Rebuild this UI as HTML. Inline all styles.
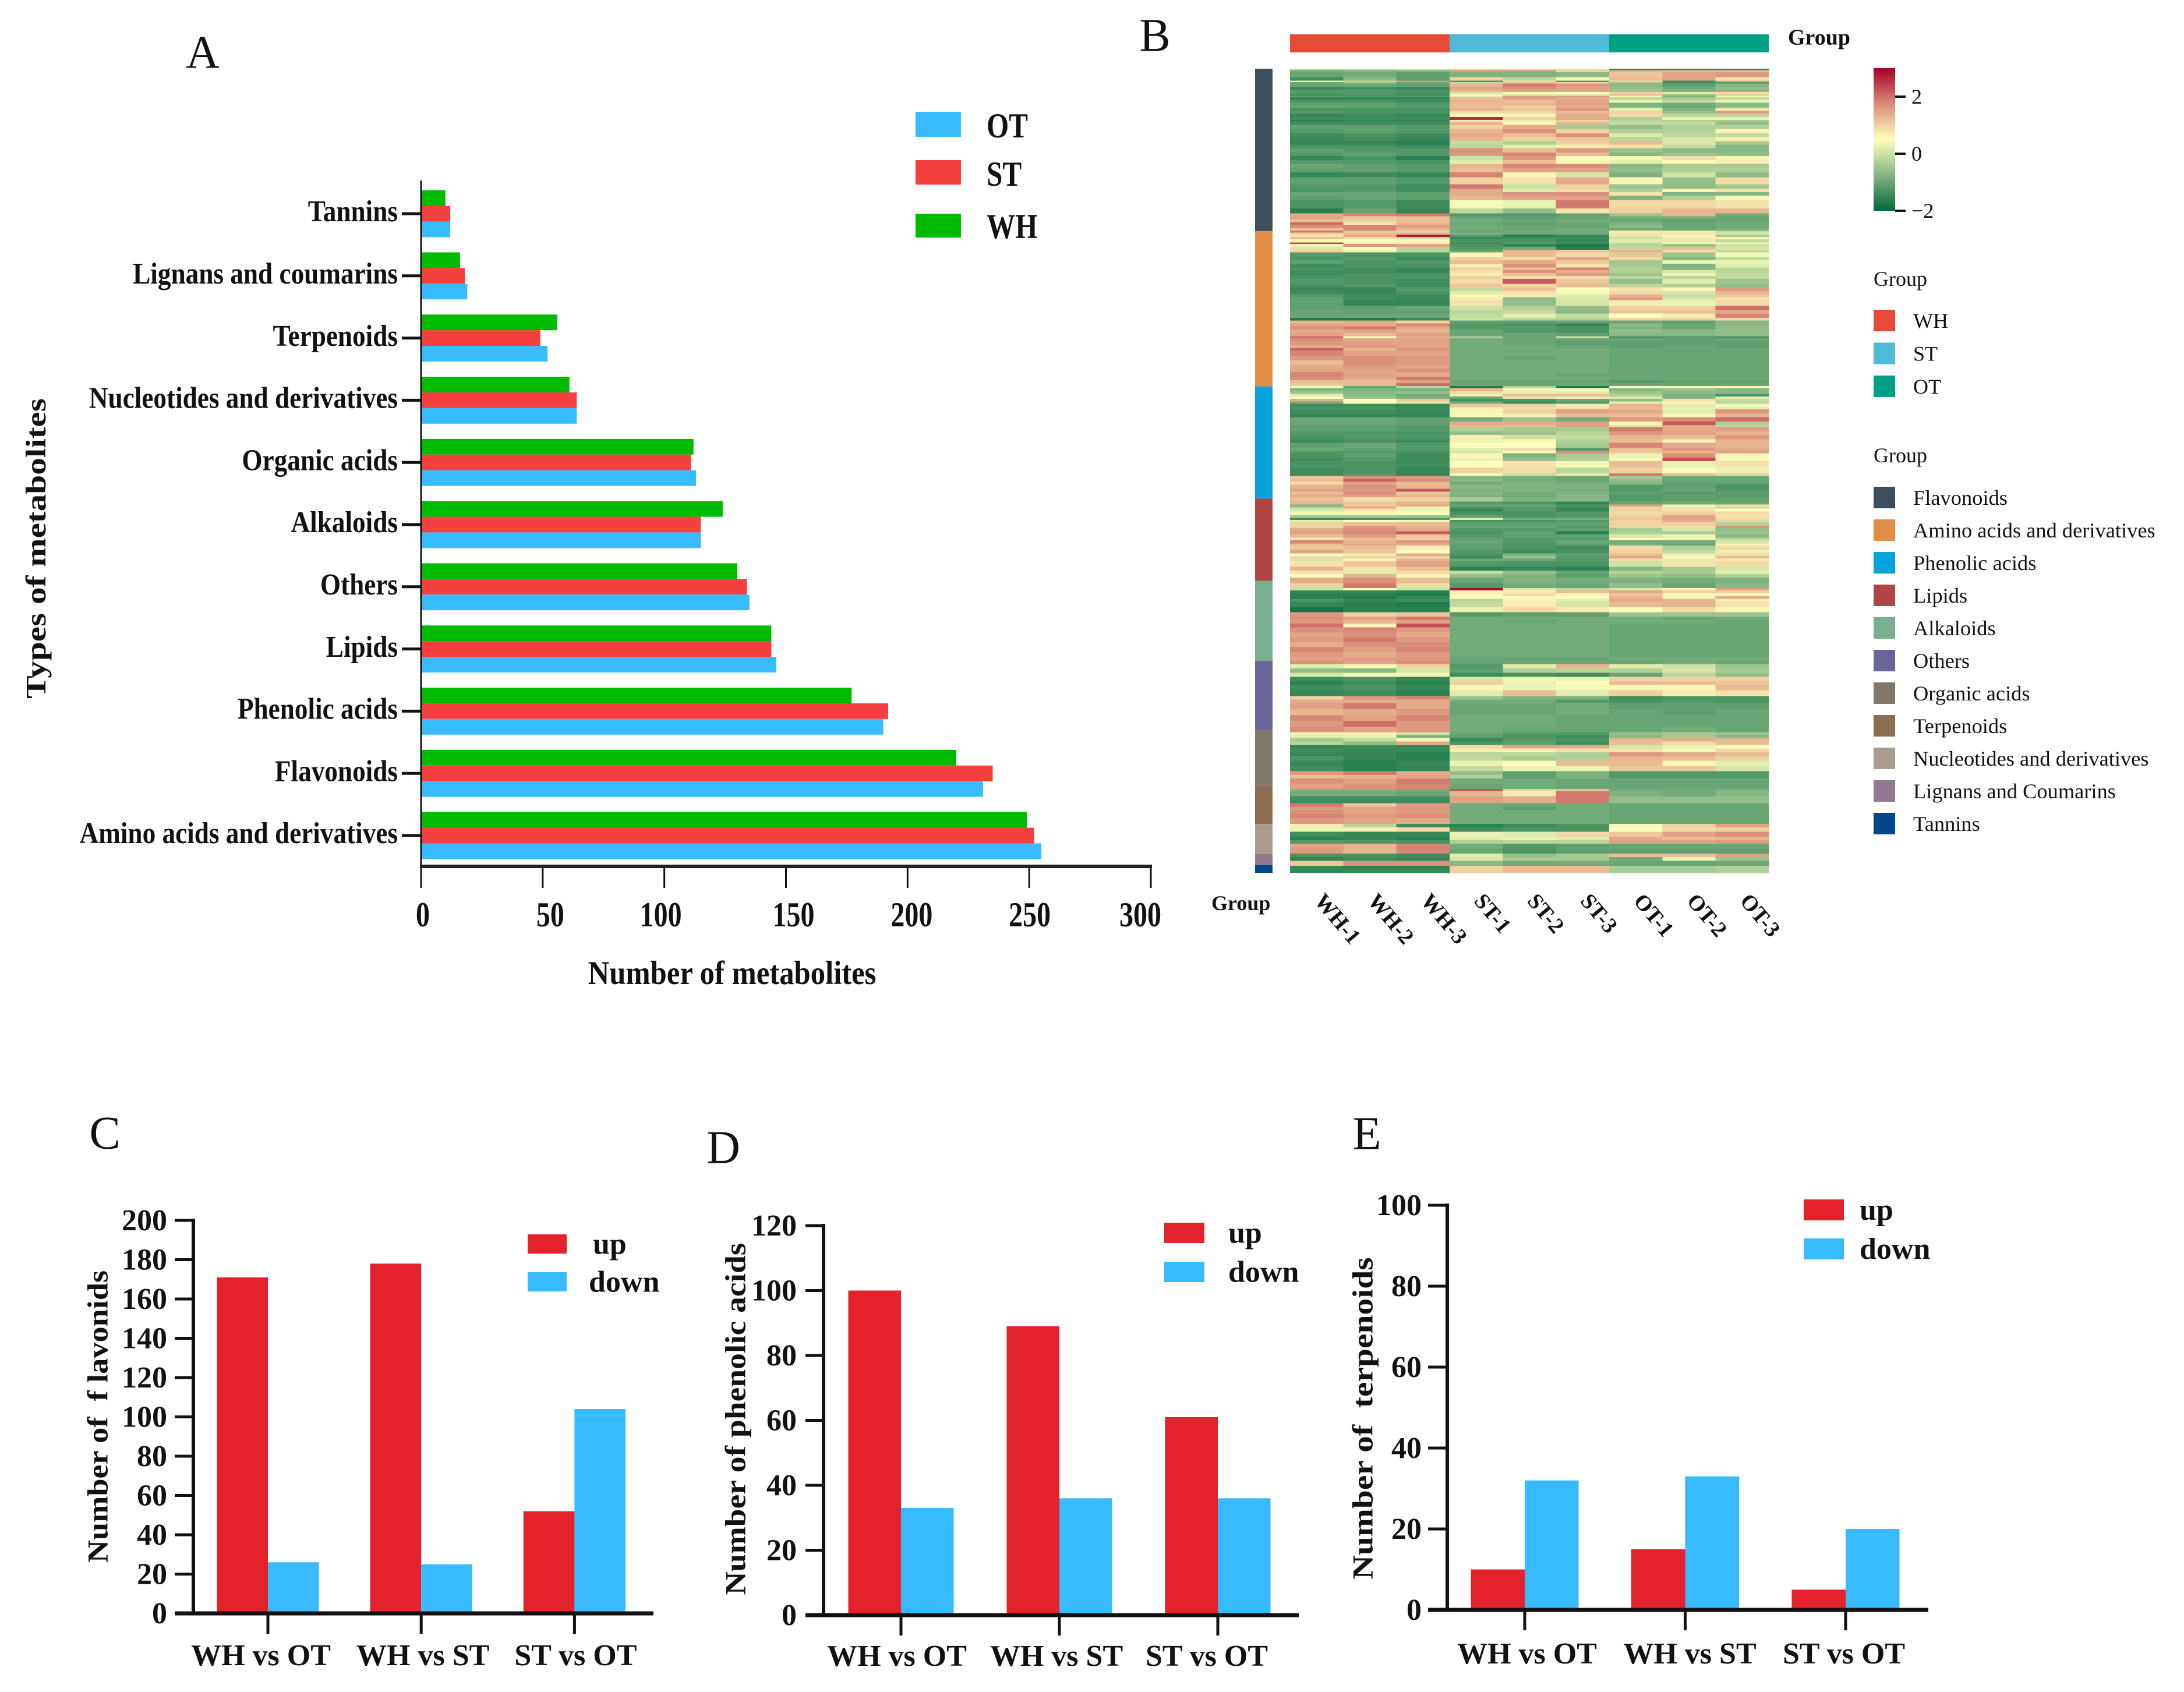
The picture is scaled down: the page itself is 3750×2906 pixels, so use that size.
<!DOCTYPE html>
<html lang="en">
<head>
<meta charset="utf-8">
<title>Metabolite classification, heatmap and differential counts</title>
<style>
html,body{margin:0;padding:0;background:#fff;}
svg{display:block;}
text{font-family:"Liberation Serif","Times New Roman",serif;fill:#111;}
</style>
</head>
<body>
<svg id="figure" xmlns="http://www.w3.org/2000/svg" width="3750" height="2906" viewBox="0 0 3750 2906">
<defs>
<linearGradient id="heatGradient" x1="0" y1="1" x2="0" y2="0">
<stop offset="0" stop-color="#00693a"/>
<stop offset="0.25" stop-color="#84b582"/>
<stop offset="0.5" stop-color="#ffffbb"/>
<stop offset="0.75" stop-color="#d98b78"/>
<stop offset="1" stop-color="#a50026"/>
</linearGradient>
</defs>
<rect width="3750" height="2906" fill="#fff"/>
</svg>
<script>
/* ---------- Panel A data ---------- */
const catA = ["Tannins","Lignans and coumarins","Terpenoids","Nucleotides and derivatives","Organic acids","Alkaloids","Others","Lipids","Phenolic acids","Flavonoids","Amino acids and derivatives"];
const whA = [10,16,56,61,112,124,130,144,177,220,249];
const stA = [12,18,49,64,111,115,134,144,192,235,252];
const otA = [12,19,52,64,113,115,135,146,190,231,255];
const ticksA = [0,50,100,150,200,250,300];
const seriesNamesA = ["OT","ST","WH"];

/* ---------- Panels C, D, E data ---------- */
const compareLabels = ["WH vs OT","WH vs ST","ST vs OT"];
const upC = [171,178,52];
const downC = [26,25,104];
const ticksC = [0,20,40,60,80,100,120,140,160,180,200];
const upD = [100,89,61];
const downD = [33,36,36];
const ticksD = [0,20,40,60,80,100,120];
const upE = [10,15,5];
const downE = [32,33,20];
const ticksE = [0,20,40,60,80,100];

/* ---------- Panel B data ---------- */
const heatSamples = ["WH-1","WH-2","WH-3","ST-1","ST-2","ST-3","OT-1","OT-2","OT-3"];
const groupNames = ["WH","ST","OT"];
const classNames = ["Flavonoids","Amino acids and derivatives","Phenolic acids","Lipids","Alkaloids","Others","Organic acids","Terpenoids","Nucleotides and derivatives","Lignans and Coumarins","Tannins"];
const classRows = [233,223,161,118,115,99,81,54,43,16,11];
const colorbarTicks = [2,0,-2];
/* each band: metabolite rows in the band, then nine z-scores */
const heatBands = [
[2,-.2,-.1,0,1,.9,.9,-1.6,-1.6,-1.6],
[3,-.9,-.8,-.8,1.6,1.7,1,1.3,1.2,1.2],
[7,-1,-.9,-1.1,-.8,-.8,-.7,1.1,1.5,1.6],
[5,-1.4,-.7,-1.1,1,-.2,.4,1.2,1.5,.8],
[2,.3,1.2,1.6,-1.2,.9,-1.2,1,-1.4,1.5],
[2,-1,-.5,-1,-.1,1.2,1,-.5,-1.3,-1.2],
[5,-1,-1,-1.1,1.3,1.9,1.6,-.7,-1.1,-.7],
[3,-1.5,-1.4,-1.5,1.5,1.7,1.5,-.6,-.9,-.6],
[4,-1.2,-1.2,-1.3,1.3,1.5,1.5,-.5,-.8,-.7],
[3,-1.2,-1.2,-1.3,.1,.4,.5,1,.2,.9],
[2,-1.4,-1.3,-1.4,.5,.2,.2,1.2,-.5,1.1],
[2,-1.1,-1.2,-1.2,.2,1.6,1.6,.6,-.8,.4],
[4,-1.5,-1.5,-1.5,1.2,1.5,1.4,-.2,-.4,-.1],
[4,-1.3,-1.3,-1.4,1.3,1.2,1.5,.3,-.1,.3],
[4,-1.1,-1.1,-1.2,1.2,1.3,1.5,-.8,-.9,-.7],
[3,-1,-1.1,-1.2,1.2,1,1.4,-.7,-1,-.7],
[5,-1.3,-1.3,-1.3,1.3,1.1,1.6,.2,-.8,.8],
[3,-1.2,-1.3,-1.3,.9,1,1.2,1,-.6,1.6],
[5,-1.5,-1.4,-1.5,.4,.6,1.4,.9,-.2,-.2],
[4,-1.4,-1.4,-1.4,2.6,1,1.4,-.3,.3,.3],
[3,-1.6,-1.5,-1.5,.8,.3,1,-.2,-.3,-.4],
[4,-1.4,-1.4,-1.4,1.3,.6,1.3,-.1,-.1,-.6],
[6,-1.1,-1.1,-1.2,1,1.4,-.4,-.6,-.3,-.3],
[6,-1.2,-1.1,-1.2,1.3,1.7,1,-.3,-.3,.6],
[5,-1.4,-1.3,-1.4,1.4,1.2,1.7,.2,-.2,-.1],
[6,-1.5,-1.4,-1.5,1.3,1,1.1,-.2,.1,.7],
[5,-1.5,-1.5,-1.6,-.1,-.3,1,1.2,.1,-.4],
[5,-1.3,-1.3,-1.4,-.2,.2,.7,.8,-.1,-.7],
[6,-1.1,-1.2,-1.2,1.7,1.2,1.6,-.5,-.7,-.7],
[5,-1.2,-1.1,-1.2,1.6,1.8,1.2,-.7,-.5,-.6],
[6,-1.5,-1.3,-1.6,0,1.6,.5,.4,.9,.6],
[5,-1.2,-1.2,-1.3,.2,1.2,.4,.2,.6,.7],
[6,-1,-1.1,-1.2,1.3,1.8,1.7,-.7,-.4,-.4],
[6,-1.1,-1.1,-1.2,1.2,1.5,1.5,-.6,-.3,-.3],
[7,-1.5,-1.4,-1.5,1.8,.6,.1,-.8,0,-.6],
[10,-1.1,-1.1,-1.2,1,.8,1.4,.6,-.6,.9],
[6,-1.2,-1.2,-1.4,1.9,0,1,-.5,-.6,-.4],
[5,-1.3,-1.2,-1.4,1.4,.2,.9,-.3,.6,.8],
[5,-1,-1,-1.1,1.4,1.7,1.7,.8,-.8,-.7],
[6,-1.1,-1,-1.1,1.3,1.5,1.5,-.8,-.3,.4],
[12,-1.3,-1.2,-1.4,.4,.3,1.9,.9,.9,.8],
[7,-1.6,-1,-1.5,-.2,-.6,.8,1,1.3,1.3],
[4,1.4,1.8,1.9,-1.2,-1.2,-1.1,-.5,1.3,-.9],
[4,1.5,1.1,1.2,-1,-1.1,-1,-.9,-.9,-1],
[4,1.2,1,1.2,-.9,-1,-.9,-1,-1.1,-1],
[4,2,.7,1.3,-1,-1.1,-1,-.8,-1,-.9],
[5,1.7,1.8,1.5,-.9,-1,-1,-.7,-1,-.9],
[3,1.2,1.8,1.3,-.9,-1,-.9,-.9,-1,-.8],
[3,1.9,1.1,1,-1,-.9,-.9,.7,.7,-.1],
[3,1,1.2,1.3,-.8,-1,-.9,.8,.8,.1],
[3,.8,1.4,2.8,-1.2,-1.6,-1.5,.2,.6,-.4],
[3,1.2,.9,-.1,-1.5,-1.4,-1.4,0,.7,.4],
[5,.6,.5,.6,-1.3,-1.3,-1.5,.2,.8,-.1],
[2,2.4,.3,.7,-1.4,-1.2,-1.4,-.1,.6,.4],
[4,.3,1.6,1.5,-1.3,-1.5,-1.7,-.2,-.5,0],
[4,.9,.5,-.2,-1.2,-.9,-1.6,-.1,1.2,.1],
[4,1,.3,-.2,-1,1.3,1.1,1.3,.9,-.1],
[6,-1.2,-1.3,-1.3,.6,1.2,.9,1.1,-.5,.4],
[5,-1.3,-1.2,-1.4,1,.9,1.5,.9,-.7,-.1],
[5,-1.1,-1.3,-1.2,1.2,1.4,1.1,-.4,.3,.3],
[5,-1.4,-1.3,-1.3,.7,1.7,.8,-.4,-.8,.2],
[4,-1.3,-1.4,-1.5,1,1.2,1.8,-.3,-.7,-.2],
[4,-1.4,-1.4,-1.5,.8,1.7,1.4,-.3,.1,-.2],
[4,-1.4,-1.3,-1.3,.7,1.2,1.6,-.5,.3,-.1],
[4,-1.3,-1.3,-1.3,1,.9,.9,-.2,-.2,-.1],
[7,-1.2,-1.3,-1.4,.9,2.2,1.1,-.6,.2,-.5],
[5,-1.3,-1.2,-1.4,1.1,.9,1.2,-.2,-.3,-.6],
[5,-1.5,-1.5,-1.2,-.1,1.2,.5,.8,.6,1.6],
[5,-1.4,-1.5,-1.3,.2,.8,.4,.9,.1,1.3],
[4,-1.2,-1.4,-1.4,.6,.7,.2,1.3,0,1.1],
[4,-1.1,-1.4,-1.5,.7,-.6,.1,1.6,.1,.8],
[8,-1.1,-1.5,-1.5,.8,-.6,.1,.7,.3,.9],
[6,-1.1,-1.1,-1,0,-.3,-.6,1,1,2],
[5,-1,-1.1,-1.1,-.2,-.1,-.7,1.1,1.2,1.4],
[6,-1,-1,-1,-.1,.2,-.1,.5,.7,1.8],
[4,-1.7,-1.7,-1.4,0,-.2,-.3,1,1,.9],
[4,1.3,1.4,1,-1.1,-1.1,-1,-1,-1.1,-.7],
[4,1.5,1.4,1.8,-1.2,-1.3,-1.5,-.7,-1,-.7],
[4,1.7,1.9,1.4,-1.2,-1.2,-1.3,-.8,-1,-.6],
[5,1.4,1.5,1.3,-1,-1.2,-1.3,-.6,-.7,-.6],
[5,1.5,1.3,1.5,-1,-1,-1.1,-.7,-.7,-.6],
[3,2,.5,1.4,-.4,-1,-.1,-1.3,-1.2,-1.3],
[4,1.7,1.4,1.5,-.9,-1,-1,-1,-1.1,-1],
[5,1.6,1.5,1.5,-.9,-1,-1.1,-1.1,-1.1,-1.1],
[5,1.4,1.6,1.5,-.9,-.9,-1,-1.1,-1,-1.1],
[3,2.1,1.3,1.7,-.9,-.9,-.9,-1,-1,-1],
[8,1.8,1.5,1.5,-.9,-.9,-.9,-1,-1,-1],
[6,1.6,1.7,1.6,-.9,-1,-.9,-1,-1,-1],
[6,1.2,1.7,1.6,-.9,-.9,-.9,-1,-1,-1],
[6,1.4,1.6,1.5,-.9,-.9,-.9,-1,-1,-1],
[5,1.5,1.5,1.7,-.9,-.9,-.9,-1,-1,-1],
[6,1.8,1.5,1.4,-.9,-.9,-1,-1,-1,-1],
[5,1.7,1.4,1.9,-.9,-.9,-.9,-1,-1,-1],
[4,1.2,1.2,1.5,-1,-1,-1,-1.2,-1.1,-1.1],
[4,1.1,1.3,2,-1,-1,-1,-1,-1,-1],
[3,.4,-1,-.2,-1.7,-.3,-1.7,.5,.6,.6],
[4,-.8,-.8,-.8,1.3,.6,.6,-.7,-.5,-.7],
[4,-.5,-.7,-.6,.9,.3,.2,-.5,-.7,-.7],
[4,.2,-.7,-.9,.3,1.2,1.2,-.3,-.8,-1.3],
[3,.5,-.5,-.8,-1,.8,.7,.1,-.7,.2],
[4,1.4,.5,1.1,-1.4,-1.3,-1,-.6,.8,-.1],
[3,-.9,.6,.2,-.9,-1.4,-1.2,.2,.6,-.2],
[5,-1.4,-1.4,-1.5,1.1,1,.7,1.3,.2,.4],
[3,-1.3,-1.3,-1.4,.7,.8,.9,1.2,.3,.2],
[6,-1.4,-1.4,-1.5,.4,1,1.5,1.4,.2,1.6],
[5,-1.5,-1.5,-1.5,.6,.7,1.2,1.2,.4,1.3],
[6,-1,-1,-1.1,-.9,-.5,-.9,1.6,1.7,2],
[5,-1,-1,-1.1,1.4,1.4,1.5,.4,2.2,-.3],
[3,-1.1,-1.1,-1.2,1.3,1.2,1.5,.1,1.5,-.2],
[6,-1.1,-1.1,-1.2,-.3,-.4,-.4,1.9,1.4,1.5],
[5,-1.2,-1.2,-1.3,-.6,-.5,-.2,1.6,1.5,1.3],
[6,-1.3,-1.2,-1.3,.7,0,-.1,1.3,1.2,1.6],
[5,-1.4,-1.3,-1.4,.3,.6,-.3,1.2,.6,1.3],
[7,-1.1,-1,-1.2,.5,.5,-.4,1.8,1.4,1.3],
[4,-1,-1.1,-1.2,.2,.9,-1.2,1.2,1.6,1.4],
[4,-1.2,-1.2,-1.3,.1,.5,1.7,1.1,1.3,1.5],
[6,-1.3,-1.1,-1.4,.6,-.8,-.4,.3,1.7,.6],
[5,-1.4,-1.2,-1.4,.3,-.6,-.3,.4,2.3,.4],
[9,-1.3,-1.3,-1.4,.5,.8,.4,1.2,.3,.8],
[8,-1.4,-1.3,-1.5,1,.9,-.2,1,.5,.3],
[4,-1.4,-1.2,-1.5,.4,-.1,.2,1.9,1.2,1],
[4,1.1,1.7,1.6,-.8,-.9,-1,-.4,-1,-1],
[4,1.2,2.1,1.7,-.7,-.9,-1,-.6,-1,-1],
[4,.9,1.5,1.2,-.9,-.8,-.9,-.7,-1.1,-1.1],
[6,1.3,1.7,1.3,-.7,-.8,-.8,-1.2,-1.1,-1.3],
[4,1.5,1.6,2.2,-.8,-.8,-.9,-1.2,-1,-1.2],
[4,1.2,1.7,1.1,-.7,-.9,-.8,-1.1,-1.2,-1.1],
[4,1.4,1.5,1.3,-.8,-.9,-.7,-1.2,-1.1,-1.2],
[6,1.2,.9,1,-.4,-.8,-.7,-1.2,-1.1,-1.1],
[4,1.3,1.1,1.3,-1.2,-1.3,-1.5,-1,-.9,-1],
[3,-.8,1.1,1.4,-1,-1,-1.3,1.5,.4,.8],
[3,-.3,1.4,.6,-1.3,-1.2,-1.4,1,.2,-.1],
[4,.1,.8,.3,-1.5,-1.2,-1.5,1,.8,.5],
[5,.4,.6,.5,-1.3,-1.3,-1.2,.9,1,.9],
[4,-.4,-.4,-.5,-1.1,-1.3,-1.2,1,1.5,.8],
[3,-1.4,-1.3,-1.2,.2,-.9,-.9,1.1,1.5,.9],
[3,.2,.5,.6,-1.3,-1.3,-1.2,1,1.4,1],
[5,1,1.2,1.2,-1.1,-1.1,-1.1,1,1,-.3],
[3,.9,1.6,1.3,-1,-1,-1.2,.9,.8,1.7],
[5,1.4,1.7,1.4,-1.2,-1.2,-1.1,-.4,.1,-.6],
[4,1.5,1.8,2.2,-1.3,-1.1,-1.6,-.3,-.4,-.5],
[5,1.2,1.6,1.1,-1.2,-1.1,-1.1,.1,.3,-.7],
[3,.7,1.2,1,-1.1,-1.2,-1.2,.5,.6,-.2],
[5,1.8,1.3,1.6,-1,-1.2,-1,-.9,-.9,.1],
[3,1.2,1.4,1.4,-1.1,-1.3,-1.1,-.8,-1,.6],
[6,1.1,1.2,.7,-1.1,-1.3,-1.4,.9,-.3,.9],
[5,1.5,1.1,.5,-1.2,-1.4,-1.3,1,-.1,.3],
[4,.5,.3,1.4,-1.3,-.8,-1.1,1.2,.3,.9],
[3,1,1.1,.8,-1.5,-.5,-1.2,1.5,.6,1.3],
[4,.1,.6,1.3,-1,-1,-1.2,.9,.2,.7],
[8,.8,1.1,1.5,-1.2,-1.3,-1.3,0,.8,.9],
[5,1.3,.8,1.2,-1.6,-1.5,-1.6,-.7,-.4,.1],
[5,.8,.2,.9,-.1,-.6,-1,-.3,-.4,.2],
[5,.5,1.3,.6,-.6,-.8,-1.1,-.5,-.6,-.3],
[8,1.4,1.7,1.2,-1,-.8,-.9,-.8,-.9,-.8],
[7,1,1.9,.9,-1.2,-.9,-1,-.6,-1,-.7],
[3,0,.5,0,2.9,.1,-.2,.1,.4,1.5],
[4,-1.5,-1.5,-1.6,.6,.7,1.2,1.4,1,1],
[4,-1.6,-1.6,-1.7,.6,.9,.6,1.1,.6,.5],
[4,-1.6,-1.7,-1.5,.5,.4,.5,1.3,.4,1.4],
[4,-1.3,-1.5,-1.4,-.2,.6,.2,1.4,1.3,.7],
[8,-1.5,-1.6,-1.7,-.1,.7,.1,1.2,1.3,.8],
[7,-1.8,-1.6,-1.6,.3,.9,.7,.5,.9,.6],
[6,1.6,1,1.1,-1.2,-1.1,-1.1,-.5,-.5,-.5],
[5,1.7,1.5,1.9,-.9,-.9,-.9,-.9,-1,-.9],
[5,1.6,1.3,1.5,-.9,-1,-.9,-.9,-.9,-1],
[5,2,.6,2.3,-.9,-.9,-.9,-1,-1,-1],
[7,1.7,1.8,1.6,-.9,-.9,-.9,-1,-1,-1],
[7,1.5,1.7,1.4,-.9,-.9,-.9,-1,-1,-1],
[7,1.6,1.9,1.6,-.9,-.9,-.9,-1,-1,-1],
[7,1.4,1.7,1.7,-.9,-.9,-.9,-1,-1,-1],
[7,1.8,1.5,1.8,-.9,-.9,-.9,-1,-1,-1],
[7,1.6,1.4,1.6,-.9,-.9,-.9,-1,-1,-1],
[5,1.5,1.6,1.6,-1,-1,-1,-.9,-.9,-.9],
[5,1.7,1.5,1.7,-1,-1,-1,-1,-.9,-1],
[6,.2,.4,1,-1.2,.2,1.3,.2,0,-.5],
[6,-.6,-.7,.1,-1.1,-.3,-.2,-.3,.1,-.4],
[6,.1,.4,.6,-1.4,-1.3,-1.4,-1,-.2,-.6],
[6,-1.4,-1.3,-1.5,.1,.4,.3,1,1,1],
[5,-1.6,-1.4,-1.6,1,.3,.5,1.2,1.2,1.1],
[8,-1.4,-1.3,-1.5,.6,.3,.4,.4,.6,1.2],
[8,-1.5,-1.4,-1.6,.2,1.2,.2,1,.7,.8],
[5,1,1.6,1.8,-.5,-.8,-.8,-1.4,-1.3,-1.3],
[5,1.4,1.4,1.4,-.9,-.9,-1.2,-1.3,-1.2,-1.3],
[8,1.5,1.9,1.4,-1,-1,-.9,-1.1,-1.1,-1.1],
[9,1.3,1.4,1.6,-1,-1,-.9,-1,-1.1,-1],
[8,1.8,1.5,1.8,-.9,-.9,-1,-1,-1,-1],
[8,1.6,2,1.6,-.9,-.9,-1,-1,-1,-1],
[8,1.7,1.5,1.6,-.9,-1,-1,-1,-.9,-1],
[4,.6,.7,0,-1,-1.2,-1.2,-.6,-.4,-.5],
[4,.2,.3,-.8,-1.1,-1.3,-1.4,-.7,-.4,-.7],
[5,-.4,-.1,.4,-1.5,-1.2,-1.3,1.3,1.4,1.3],
[5,-.2,-.6,1.4,-1.3,-1.1,-1.4,1.2,.9,1.2],
[5,-1.5,-1.4,-1.5,.9,1.5,1.4,.1,.3,.5],
[5,-1.4,-1.5,-1.5,.7,.6,.8,.8,.4,.9],
[6,-1.5,-1.5,-1.6,-.2,-.2,-.3,1.6,1.4,1.2],
[6,-1.3,-1.5,-1.6,-.1,-.4,-.3,1.3,1.2,1],
[8,-1.5,-1.6,-1.5,.3,.5,1.2,1.2,.6,.2],
[7,-1.4,-1.6,-1.5,-.1,.3,.3,1.1,1.1,.1],
[5,1.6,1.9,1.4,-.6,-1.1,-.8,-1.2,-1.2,-1.2],
[5,1.2,1.3,1.5,-.3,-1.1,-.8,-1.2,-1.2,-1.2],
[8,1.7,1.5,1.9,-.9,-.9,-1,-1,-1,-1],
[7,1.5,1.7,1.8,-1,-.9,-1,-1,-1,-1],
[3,-.8,-.8,-.9,2.2,1,1.2,-.9,-.9,-.8],
[7,-.9,-.9,-1,1.3,.7,1.9,-.8,-.9,-.7],
[10,-1.4,-1.4,-1.4,1.5,1.4,1.9,-.6,-.6,-.6],
[5,1.9,1.1,1.6,-.9,-1,-.9,-1,-1,-1],
[5,1.6,1.5,1.6,-.9,-1.1,-.9,-1,-1,-1],
[5,1.7,1.5,1.6,-.9,-.9,-.9,-1,-1,-1],
[6,1.8,1.6,1.7,-.9,-.9,-.9,-1,-1,-1],
[8,1.6,1.5,1.4,-.9,-.9,-.9,-1,-1,-1],
[5,.7,-.2,-1.4,-1.6,-1.4,-1.3,.4,1,1.5],
[6,.3,.7,.9,-1.4,-1.3,-1.3,.5,.9,1],
[7,-1.4,-1.5,-1.5,.3,.2,.9,1.1,1.5,1.7],
[5,-1.6,-1.5,-1.6,.2,.3,.2,1.4,1.2,1.3],
[5,-1.2,-1.2,-1.3,-.3,-.2,-.2,1.5,1.5,1.6],
[7,1.5,1.3,1.8,-.9,-1.2,-1.1,-1,-1,-1],
[7,1.6,1.3,1.8,-1,-1.3,-1.1,-1.1,-1.1,-1.1],
[5,-1.3,-1.3,-1.4,.2,-.6,-.4,1.2,1.2,1.5],
[5,-1.5,-1.4,-1.5,.1,-.4,-.4,-.9,.3,-.5],
[7,1.1,1.7,1.7,-.7,-.9,-.9,-1,-1,-1],
[10,-1.5,-1.5,-1.5,1,1.2,1.2,-.4,-.4,-.3]
];

/* ---------- Colour scale for the heatmap ---------- */
const heatStops = [[-2,[0,105,58]],[-0.75,[132,181,130]],[0.5,[255,255,187]],[1.75,[217,139,120]],[3,[165,0,38]]];
function heatColor(v){
  const val = Math.max(-2, Math.min(3, v));
  for(let i=0;i<heatStops.length-1;i++){
    const a = heatStops[i], b = heatStops[i+1];
    if(val<=b[0]){
      const t = (val-a[0])/(b[0]-a[0]);
      const c = a[1].map((x,k)=>Math.round(x+(b[1][k]-x)*t));
      return 'rgb('+c.join(',')+')';
    }
  }
  return 'rgb(165,0,38)';
}

/* ---------- Drawing helpers ---------- */
const svg = document.getElementById('figure');
const NS = 'http://www.w3.org/2000/svg';
function rect(parent,x,y,w,h,fill){
  const el = document.createElementNS(NS,'rect');
  el.setAttribute('x',x);el.setAttribute('y',y);
  el.setAttribute('width',w);el.setAttribute('height',h);
  el.setAttribute('fill',fill);
  parent.appendChild(el);
  return el;
}
function line(parent,x1,y1,x2,y2,w,color){
  const el = document.createElementNS(NS,'line');
  el.setAttribute('x1',x1);el.setAttribute('y1',y1);
  el.setAttribute('x2',x2);el.setAttribute('y2',y2);
  el.setAttribute('stroke',color||'#111');el.setAttribute('stroke-width',w);
  parent.appendChild(el);
  return el;
}
/* y is the vertical middle of the capital letters */
function label(parent,x,y,str,size,opts){
  const o = opts||{};
  const el = document.createElementNS(NS,'text');
  const rot = o.rot||0, sx = o.sx||1;
  const dy = size*0.33;
  let tf = 'translate('+x+' '+y+')';
  if(rot) tf += ' rotate('+rot+')';
  if(sx!==1) tf += ' scale('+sx+' 1)';
  el.setAttribute('transform',tf);
  el.setAttribute('y',dy);
  el.setAttribute('font-size',size);
  el.setAttribute('xml:space','preserve');
  el.style.whiteSpace='pre';
  if(o.bold) el.setAttribute('font-weight','bold');
  if(o.anchor) el.setAttribute('text-anchor',o.anchor);
  el.textContent = str;
  parent.appendChild(el);
  return el;
}
function group(name){
  const g = document.createElementNS(NS,'g');
  
  
  svg.appendChild(g);
  return g;
}
function tag(el,name){
  
  
  return el;
}

/* ---------- Panel letters ---------- */
const letters = group('panel-letters');
tag(label(letters,348,90,'A',80,{anchor:'middle'}),'panel-label-a');
tag(label(letters,1983,61,'B',80,{anchor:'middle'}),'panel-label-b');
tag(label(letters,180,1946,'C',80,{anchor:'middle'}),'panel-label-c');
tag(label(letters,1242,1971,'D',80,{anchor:'middle'}),'panel-label-d');
tag(label(letters,2347,1947,'E',80,{anchor:'middle'}),'panel-label-e');

/* ---------- Panel A ---------- */
(function(){
  const g = group('panel-a-bar-chart');
  const x0 = 723, x1 = 1976, axisY = 1488;
  const xA = v => x0 + v*(x1-x0)/300;
  const yCat = i => 367 + 106.8*i;
  const barH = 26.9;
  const colors = {WH:'#00bb00',ST:'#f54040',OT:'#38bbff'};
  catA.forEach((name,i)=>{
    const top = yCat(i)-barH*1.5;
    tag(rect(g,x0,top,xA(whA[i])-x0,barH,colors.WH),'bar-wh');
    tag(rect(g,x0,top+barH,xA(stA[i])-x0,barH,colors.ST),'bar-st');
    tag(rect(g,x0,top+barH*2,xA(otA[i])-x0,barH,colors.OT),'bar-ot');
    tag(line(g,690,yCat(i),x0,yCat(i),5),'category-tick');
    tag(label(g,683,yCat(i)-4,name,52,{bold:true,anchor:'end',sx:0.87}),'category-label');
  });
  tag(line(g,x0,310,x0,axisY,3),'y-axis-line');
  tag(line(g,x0-2,axisY,x1+2,axisY,6,'#222'),'x-axis-line');
  const nudge = [3,13,-6,13,7,1,-18];
  ticksA.forEach((t,i)=>{
    tag(line(g,xA(t),axisY,xA(t),1525,3),'x-axis-tick');
    tag(label(g,xA(t)+nudge[i],1571,String(t),60,{bold:true,anchor:'middle',sx:0.8}),'x-tick-label');
  });
  tag(label(g,1257,1671,'Number of metabolites',57,{bold:true,anchor:'middle',sx:0.89}),'x-axis-title');
  tag(label(g,62,942,'Types of metabolites',49,{bold:true,anchor:'middle',sx:1.21,rot:-90}),'y-axis-title');
  seriesNamesA.forEach((name,i)=>{
    const tops = [192,275,367];
    const hs = [43,42,41];
    const centers = [216,299,389];
    tag(rect(g,1572,tops[i],78,hs[i],colors[name]),'legend-swatch-'+name.toLowerCase());
    tag(label(g,1694,centers[i],name,60,{bold:true,sx:0.82}),'legend-label-'+name.toLowerCase());
  });
})();

/* ---------- Panel B ---------- */
(function(){
  const g = group('panel-b-heatmap');
  const left = 2215, colW = (3037-2215)/9, top = 118, H = 1381;
  const xCol = c => left + c*colW;
  const totalRows = heatBands.reduce((s,b)=>s+b[0],0);
  const yRow = r => top + r*H/totalRows;
  const cells = group('heatmap-cells');
  cells.setAttribute('shape-rendering','crispEdges');
  let r = 0;
  heatBands.forEach(b=>{
    const y = yRow(r), h = yRow(r+b[0])-y;
    for(let c=0;c<9;c++){
      const el = rect(cells,xCol(c),y,colW+0.5,h+0.5,heatColor(b[c+1]));
      
      
    }
    r += b[0];
  });
  /* top group annotation */
  const groupColors = {WH:'#e64b35',ST:'#4dbbd5',OT:'#00a087'};
  groupNames.forEach((n,i)=>{
    tag(rect(g,xCol(i*3),59,colW*3,31,groupColors[n]),'top-annotation-'+n.toLowerCase());
  });
  tag(label(g,3070,64,'Group',38,{bold:true}),'top-annotation-title');
  /* left class annotation */
  const classColors = ['#3c4f5c','#e08e45','#05a3da','#b04545','#79ae93','#6a6599','#80796b','#8c6d4f','#a89c90','#8f7a90','#00468b'];
  const totalClass = classRows.reduce((a,b)=>a+b,0);
  let acc = 0;
  classNames.forEach((n,i)=>{
    const y = top + acc*H/totalClass;
    const h = classRows[i]*H/totalClass;
    tag(rect(g,2155,y,30,h,classColors[i]),'class-annotation-segment');
    acc += classRows[i];
  });
  /* colour bar: -2 to 3 */
  const yBar = v => 362 - (v+2)*49;
  tag(rect(g,3217,yBar(3),37,yBar(-2)-yBar(3),'url(#heatGradient)'),'colorbar');
  colorbarTicks.forEach(t=>{
    tag(line(g,3254,yBar(t),3272,yBar(t),4),'colorbar-tick');
    tag(label(g,3282,yBar(t),t<0?'\u2212'+Math.abs(t):String(t),36),'colorbar-tick-label');
  });
  /* group legend */
  tag(label(g,3217,479,'Group',36),'group-legend-title');
  groupNames.forEach((n,i)=>{
    const y = 532 + i*56.5;
    tag(rect(g,3217,y,37,37,groupColors[n]),'group-legend-swatch');
    tag(label(g,3285,y+19,n,36),'group-legend-label');
  });
  /* class legend */
  tag(label(g,3217,782,'Group',36),'class-legend-title');
  classNames.forEach((n,i)=>{
    const y = 836 + i*56;
    tag(rect(g,3217,y,37,37,classColors[i]),'class-legend-swatch');
    tag(label(g,3285,y+19,n,36,{sx:1.012}),'class-legend-label');
  });
  /* sample labels */
  tag(label(g,2080,1551,'Group',36,{bold:true}),'left-annotation-title');
  heatSamples.forEach((n,i)=>{
    tag(label(g,xCol(i)+50,1540,n,38,{bold:true,rot:50}),'sample-label');
  });
})();

/* ---------- Panels C, D, E ---------- */
function drawCompare(cfg,ups,downs,ticks){
  const g = group(cfg.name);
  const yV = v => cfg.y0 - v*(cfg.y0-cfg.yTop)/ticks[ticks.length-1];
  const xG = i => cfg.c0 + i*cfg.step;
  compareLabels.forEach((lab,i)=>{
    tag(rect(g,xG(i)-cfg.barW,yV(ups[i]),cfg.barW,cfg.y0-yV(ups[i]),'#e4222b'),'bar-up');
    tag(rect(g,xG(i),yV(downs[i]),cfg.barW,cfg.y0-yV(downs[i]),'#38baff'),'bar-down');
    tag(line(g,xG(i),cfg.y0,xG(i),cfg.tickEnd,5),'x-axis-tick');
    tag(label(g,xG(i)+cfg.nudge[i],cfg.labY,lab,52,{bold:true,anchor:'middle'}),'x-tick-label');
  });
  tag(line(g,cfg.axisX,cfg.yTop-3,cfg.axisX,cfg.y0+3,6),'y-axis-line');
  tag(line(g,cfg.tickX,cfg.y0,cfg.xEnd,cfg.y0,7),'x-axis-line');
  ticks.forEach(t=>{
    tag(line(g,cfg.tickX,yV(t),cfg.axisX,yV(t),5),'y-axis-tick');
    tag(label(g,cfg.labX,yV(t),String(t),52,{bold:true,anchor:'end'}),'y-tick-label');
  });
  tag(label(g,cfg.titleX,cfg.titleY,cfg.title,50,{bold:true,anchor:'middle',sx:cfg.titleSx,rot:-90}),'y-axis-title');
  tag(rect(g,cfg.legX,cfg.legUp,cfg.legW,cfg.legH,'#e4222b'),'legend-swatch-up');
  tag(rect(g,cfg.legX,cfg.legDown,cfg.legW,cfg.legH,'#38baff'),'legend-swatch-down');
  tag(label(g,cfg.legUpX,cfg.legUp+cfg.legH/2,'up',52,{bold:true}),'legend-label-up');
  tag(label(g,cfg.legDownX,cfg.legDown+cfg.legH/2,'down',52,{bold:true}),'legend-label-down');
}
drawCompare({name:'panel-c-flavonoids',y0:2771,yTop:2096,c0:460,step:263.2,barW:87.6,tickEnd:2806,labY:2843,nudge:[-12,3,2],
  axisX:332,tickX:300,xEnd:1122,labX:287,titleX:168,titleY:2433,title:'Number of  f lavonids',titleSx:1.085,
  legX:906,legUp:2120,legDown:2185,legW:67,legH:33,legUpX:1018,legDownX:1011},upC,downC,ticksC);
drawCompare({name:'panel-d-phenolic-acids',y0:2774,yTop:2105,c0:1547,step:272,barW:90.5,tickEnd:2809,labY:2844,nudge:[-7,-5,-19],
  axisX:1414,tickX:1383,xEnd:2230,labX:1368,titleX:1263,titleY:2437,title:'Number of phenolic acids',titleSx:1.11,
  legX:1999,legUp:2100,legDown:2167,legW:69,legH:35,legUpX:2109,legDownX:2109},upD,downD,ticksD);
drawCompare({name:'panel-e-terpenoids',y0:2765,yTop:2070,c0:2618,step:275.5,barW:92.5,tickEnd:2800,labY:2840,nudge:[4,8,-3],
  axisX:2485,tickX:2452,xEnd:3311,labX:2441,titleX:2340,titleY:2436,title:'Number of  terpenoids',titleSx:1.15,
  legX:3097,legUp:2060,legDown:2127,legW:69,legH:36,legUpX:3193,legDownX:3193},upE,downE,ticksE);
</script>
</body>
</html>
